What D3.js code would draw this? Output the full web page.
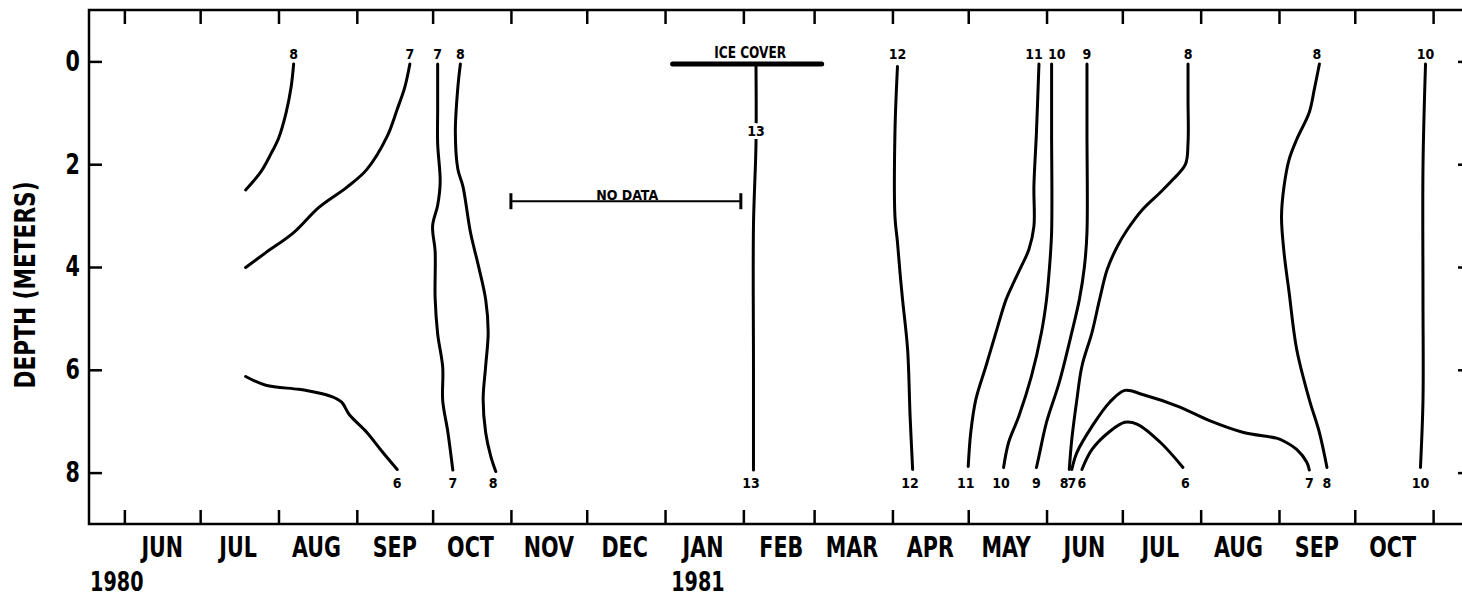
<!DOCTYPE html>
<html>
<head>
<meta charset="utf-8">
<script src="https://cdn.jsdelivr.net/npm/d3@7"></script>
<style>
  body { margin: 0; background: #fff; }
  svg { display: block; }
  text { font-family: "DejaVu Sans Condensed", "DejaVu Sans", sans-serif; font-weight: bold; fill: #000; }
</style>
</head>
<body>
<script>
// isopleths, [date, depth in m]
var iso8_1980a = [["1980-08-07",0.05],["1980-08-06",0.5],["1980-08-04",1.0],["1980-08-01",1.5],["1980-07-29",1.8],["1980-07-25",2.15],["1980-07-19",2.5]];
var iso7_1980a = [["1980-09-22",0.05],["1980-09-20",0.5],["1980-09-17",0.93],["1980-09-13",1.46],["1980-09-05",2.1],["1980-08-28",2.45],["1980-08-17",2.84],["1980-08-07",3.33],["1980-07-27",3.72],["1980-07-19",4.01]];
var iso6_1980 = [["1980-07-19",6.13],["1980-07-27",6.3],["1980-08-09",6.38],["1980-08-16",6.44],["1980-08-22",6.52],["1980-08-26",6.63],["1980-08-29",6.87],["1980-09-05",7.22],["1980-09-11",7.59],["1980-09-17",7.94]];
var iso7_1980b = [["1980-10-03",0.05],["1980-10-03",0.5],["1980-10-03",0.95],["1980-10-03",1.6],["1980-10-04",2.35],["1980-10-03",2.8],["1980-10-01",3.2],["1980-10-02",3.7],["1980-10-02",4.6],["1980-10-03",5.3],["1980-10-05",5.95],["1980-10-05",6.6],["1980-10-07",7.2],["1980-10-09",7.95]];
var iso8_1980b = [["1980-10-12",0.05],["1980-10-11",0.5],["1980-10-10",1.38],["1980-10-11",2.1],["1980-10-13",2.43],["1980-10-16",3.33],["1980-10-19",3.95],["1980-10-22",4.63],["1980-10-23",5.27],["1980-10-22",5.93],["1980-10-21",6.58],["1980-10-22",7.22],["1980-10-24",7.68],["1980-10-26",7.98]];
var iso13 = [["1981-02-06",0.1],["1981-02-06",1.6],["1981-02-05",3.2],["1981-02-05",5.9],["1981-02-05",7.95]];
var iso12 = [["1981-04-03",0.1],["1981-04-02",1.38],["1981-04-02",3.02],["1981-04-03",3.52],["1981-04-04",4.11],["1981-04-05",4.63],["1981-04-07",5.6],["1981-04-08",6.91],["1981-04-09",7.94]];
var iso11 = [["1981-05-29",0.05],["1981-05-28",1.38],["1981-05-27",2.43],["1981-05-27",3.21],["1981-05-25",3.66],["1981-05-22",3.99],["1981-05-19",4.3],["1981-05-16",4.63],["1981-05-12",5.27],["1981-05-08",5.93],["1981-05-04",6.58],["1981-05-02",7.22],["1981-05-01",7.88]];
var iso10_1981a = [["1981-06-03",0.05],["1981-06-03",1.38],["1981-06-03",3.33],["1981-06-02",4.11],["1981-06-01",4.63],["1981-05-30",5.27],["1981-05-26",6.13],["1981-05-21",6.91],["1981-05-17",7.41],["1981-05-15",7.9]];
var iso9 = [["1981-06-17",0.05],["1981-06-17",1.38],["1981-06-17",3.33],["1981-06-16",3.99],["1981-06-14",4.63],["1981-06-11",5.27],["1981-06-06",6.25],["1981-06-01",7.02],["1981-05-29",7.68],["1981-05-28",7.9]];
var iso8_1981a = [["1981-07-27",0.05],["1981-07-27",0.74],["1981-07-27",1.58],["1981-07-26",2.0],["1981-07-21",2.3],["1981-07-16",2.55],["1981-07-09",2.88],["1981-07-03",3.27],["1981-06-29",3.6],["1981-06-25",4.05],["1981-06-22",4.63],["1981-06-19",5.27],["1981-06-15",5.93],["1981-06-13",6.58],["1981-06-11",7.35],["1981-06-10",7.94]];
var iso7_1981 = [["1981-06-11",7.94],["1981-06-13",7.61],["1981-06-19",7.1],["1981-06-26",6.63],["1981-07-02",6.4],["1981-07-09",6.48],["1981-07-23",6.71],["1981-08-05",7.0],["1981-08-18",7.22],["1981-08-31",7.33],["1981-09-03",7.39],["1981-09-08",7.55],["1981-09-12",7.8],["1981-09-13",7.95]];
var iso6_1981 = [["1981-06-15",7.94],["1981-06-19",7.55],["1981-06-26",7.2],["1981-07-02",7.02],["1981-07-07",7.06],["1981-07-16",7.41],["1981-07-25",7.9]];
var iso8_1981b = [["1981-09-17",0.05],["1981-09-15",0.54],["1981-09-13",0.99],["1981-09-08",1.52],["1981-09-05",1.91],["1981-09-03",2.43],["1981-09-02",3.02],["1981-09-03",3.72],["1981-09-05",4.49],["1981-09-08",5.6],["1981-09-13",6.58],["1981-09-17",7.22],["1981-09-20",7.9]];
var iso10_1981b = [["1981-10-29",0.05],["1981-10-28",2.04],["1981-10-28",4.63],["1981-10-28",6.58],["1981-10-27",7.9]];

// [text, date, depth]
var contourLabels = [
  ["8","1980-08-07",-0.15],["7","1980-09-22",-0.15],["7","1980-10-03",-0.15],["8","1980-10-12",-0.15],
  ["12","1981-04-03",-0.15],["11","1981-05-27",-0.15],["10","1981-06-05",-0.15],["9","1981-06-17",-0.15],
  ["8","1981-07-27",-0.15],["8","1981-09-16",-0.15],["10","1981-10-29",-0.15],
  ["6","1980-09-17",8.2],["7","1980-10-09",8.2],["8","1980-10-25",8.2],["13","1981-02-04",8.2],
  ["12","1981-04-08",8.2],["11","1981-04-30",8.2],["10","1981-05-14",8.2],["9","1981-05-28",8.2],
  ["8","1981-06-08",8.2],["7","1981-06-11",8.2],["6","1981-06-15",8.2],["6","1981-07-26",8.2],
  ["7","1981-09-13",8.2],["8","1981-09-20",8.2],["10","1981-10-27",8.2]
];
var midLabels = [["13","1981-02-06",1.36]];

var iceCover = ["1981-01-04","1981-03-04",0.05];
var noData = ["1980-11-01","1981-01-31",2.72];

var monthNames = ["JUN","JUL","AUG","SEP","OCT","NOV","DEC","JAN","FEB","MAR","APR","MAY","JUN","JUL","AUG","SEP","OCT"];
var yearLabels = [["1980","1980-05-29"],["1981","1981-01-14"]];
var depthTicks = [0,2,4,6,8];

var W = 1462, H = 598;
var squeeze = 0.82;
var parse = d3.utcParse("%Y-%m-%d");

var svg = d3.select("body").append("svg").attr("width", W).attr("height", H);

var x = d3.scaleUtc()
  .domain([parse("1980-05-18"), parse("1981-11-16")])
  .range([89, 1471]);
var y = d3.scaleLinear().domain([-1, 9]).range([10, 524]);

var monthTicks = d3.utcMonth.range(parse("1980-06-01"), parse("1981-11-02"));

// frame
svg.append("rect")
  .attr("x", x.range()[0]).attr("y", y.range()[0])
  .attr("width", x.range()[1] - x.range()[0])
  .attr("height", y.range()[1] - y.range()[0])
  .attr("fill", "none").attr("stroke", "#000").attr("stroke-width", 2.5);

function styleAxis(g) {
  g.select(".domain").remove();
  g.selectAll(".tick line").attr("stroke", "#000").attr("stroke-width", 2.5);
}

svg.append("g")
  .attr("transform", "translate(0," + y.range()[1] + ")")
  .call(d3.axisBottom(x).tickValues(monthTicks).tickSize(-14).tickFormat(""))
  .call(styleAxis);

svg.append("g")
  .attr("transform", "translate(0," + y.range()[0] + ")")
  .call(d3.axisTop(x).tickValues(monthTicks).tickSize(-14).tickFormat(""))
  .call(styleAxis);

svg.append("g")
  .attr("transform", "translate(" + x.range()[0] + ",0)")
  .call(d3.axisLeft(y).tickValues(depthTicks).tickSize(-13).tickPadding(11))
  .call(styleAxis)
  .call(function(g) { g.select(".domain").remove(); })
  .selectAll("text")
  .attr("font-family", null)
  .attr("font-size", null)
  .style("font-size", "28px")
  .attr("transform", "scale(" + squeeze + ",1)");

svg.append("g")
  .attr("transform", "translate(" + x.range()[1] + ",0)")
  .call(d3.axisRight(y).tickValues(depthTicks).tickSize(-13).tickFormat(""))
  .call(styleAxis);

// month labels, centred in each month
svg.append("g").selectAll("text")
  .data(monthNames)
  .join("text")
  .attr("transform", function(d, i) {
    return "translate(" + x(d3.utcDay.offset(monthTicks[i], 15)) + ",557) scale(" + squeeze + ",1)";
  })
  .attr("text-anchor", "middle")
  .style("font-size", "28px")
  .text(function(d) { return d; });

svg.append("g").selectAll("text")
  .data(yearLabels)
  .join("text")
  .attr("transform", function(d) {
    return "translate(" + x(parse(d[1])) + ",591) scale(" + squeeze + ",1)";
  })
  .attr("text-anchor", "middle")
  .style("font-size", "26px")
  .text(function(d) { return d[0]; });

svg.append("text")
  .attr("transform", "translate(35,285) rotate(-90) scale(0.86,1)")
  .attr("text-anchor", "middle")
  .style("font-size", "28px")
  .text("DEPTH (METERS)");

// isopleths
var line = d3.line()
  .x(function(d) { return x(parse(d[0])); })
  .y(function(d) { return y(d[1]); })
  .curve(d3.curveCatmullRom.alpha(0.5));

var isopleths = [iso8_1980a, iso7_1980a, iso6_1980, iso7_1980b, iso8_1980b, iso13, iso12, iso11,
  iso10_1981a, iso9, iso8_1981a, iso7_1981, iso6_1981, iso8_1981b, iso10_1981b];

svg.append("g").selectAll("path")
  .data(isopleths)
  .join("path")
  .attr("d", line)
  .attr("fill", "none")
  .attr("stroke", "#000")
  .attr("stroke-width", 3)
  .attr("stroke-linecap", "round");

// ice cover bar
svg.append("line")
  .attr("x1", x(parse(iceCover[0]))).attr("x2", x(parse(iceCover[1])))
  .attr("y1", y(iceCover[2])).attr("y2", y(iceCover[2]))
  .attr("stroke", "#000").attr("stroke-width", 5).attr("stroke-linecap", "round");
svg.append("text")
  .attr("transform", "translate(" + ((x(parse(iceCover[0])) + x(parse(iceCover[1]))) / 2 + 3) + "," + y(-0.17) + ") scale(0.9,1)")
  .attr("dy", "0.35em")
  .attr("text-anchor", "middle")
  .style("font-size", "15px")
  .text("ICE COVER");

// no data bar
var nd = svg.append("g").attr("stroke", "#000").attr("stroke-width", 2);
nd.append("line")
  .attr("x1", x(parse(noData[0]))).attr("x2", x(parse(noData[1])))
  .attr("y1", y(noData[2])).attr("y2", y(noData[2]));
nd.selectAll(".cap")
  .data([noData[0], noData[1]])
  .join("line")
  .attr("class", "cap")
  .attr("x1", function(d) { return x(parse(d)); })
  .attr("x2", function(d) { return x(parse(d)); })
  .attr("y1", y(noData[2]) - 8).attr("y2", y(noData[2]) + 8)
  .attr("stroke-width", 3);
svg.append("text")
  .attr("x", x(parse("1980-12-17")))
  .attr("y", y(noData[2]) - 1)
  .attr("text-anchor", "middle")
  .style("font-size", "14px")
  .text("NO DATA");

// contour value labels
svg.append("g").selectAll("text")
  .data(contourLabels)
  .join("text")
  .attr("x", function(d) { return x(parse(d[1])); })
  .attr("y", function(d) { return y(d[2]); })
  .attr("dy", "0.35em")
  .attr("text-anchor", "middle")
  .style("font-size", "14px")
  .text(function(d) { return d[0]; });

svg.append("g").selectAll("text")
  .data(midLabels)
  .join("text")
  .attr("x", function(d) { return x(parse(d[1])); })
  .attr("y", function(d) { return y(d[2]); })
  .attr("dy", "0.35em")
  .attr("text-anchor", "middle")
  .style("font-size", "14px")
  .attr("stroke", "#fff").attr("stroke-width", 6)
  .attr("paint-order", "stroke")
  .text(function(d) { return d[0]; });
</script>
</body>
</html>
